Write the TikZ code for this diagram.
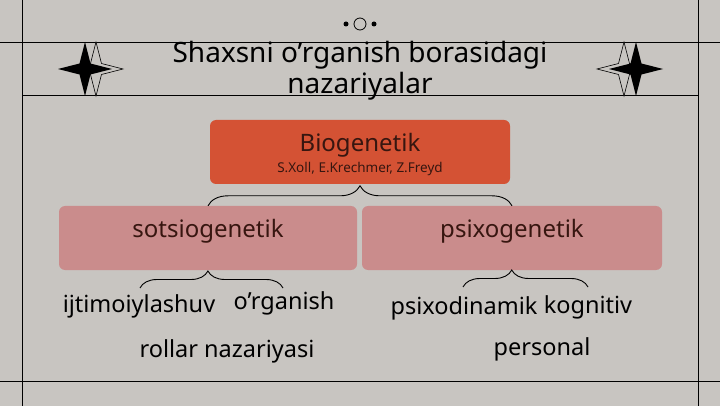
\documentclass[tikz,border=0pt]{standalone}
\usepackage{fontspec}
\setmainfont{Noto Sans}
\usetikzlibrary{decorations.pathreplacing}
\definecolor{slidebg}{RGB}{200,197,193}
\definecolor{bioorange}{RGB}{212,82,52}
\definecolor{branchpink}{RGB}{202,140,140}
\definecolor{boxtext}{RGB}{55,22,16}
\tikzset{
  rule/.style={black, line width=0.8pt},
  sparkle/.pic={\path[pic actions] (0,-27) -- (5.5,-5.5) -- (27,0) -- (5.5,5.5) -- (0,27) -- (-5.5,5.5) -- (-27,0) -- (-5.5,-5.5) -- cycle;},
  bigbox/.style={rounded corners=6pt, minimum width=300pt, minimum height=64pt, inner sep=0pt},
  boxlabel/.style={anchor=base, text=boxtext, font=\fontsize{24}{28}\selectfont, inner sep=0pt},
  leaf/.style={anchor=base, font=\fontsize{23.5}{28}\selectfont, inner sep=0pt},
  curly/.style={draw, line width=0.9pt, decorate, decoration={brace, amplitude=#1}},
}
\begin{document}
\begin{tikzpicture}[x=1pt, y=-1pt]
    \fill [slidebg] (0,0) rectangle (720,406);
    \useasboundingbox (0,0) rectangle (720,406);
    % frame lines
    \draw [rule] (22,0) -- (22,406);
    \draw [rule] (698,0) -- (698,406);
    \draw [rule] (0,42) -- (720,42);
    \draw [rule] (22,95) -- (698,95);
    \draw [rule] (0,381) -- (720,381);
    % ornament
    \fill (346,24) circle (2.5);
    \draw [line width=0.8pt] (360,24) circle (6);
    \fill (374,24) circle (2.5);
    % stars
    \pic [fill=slidebg, draw=black, line width=0.6pt] at (96,69) {sparkle};
    \pic [fill=black] at (85,69) {sparkle};
    \pic [fill=slidebg, draw=black, line width=0.6pt] at (624,69) {sparkle};
    \pic [fill=black] at (636,69) {sparkle};
    % title
    \node [anchor=base, align=center, font=\fontsize{28}{31}\selectfont, inner sep=0pt] (title) at (360,94)
        {Shaxsni o’rganish borasidagi\\nazariyalar};
    % boxes
    \node [bigbox, fill=bioorange] (bio) at (360,152) {};
    \node [bigbox, fill=branchpink, minimum width=298pt] (sotsio) at (208,238) {};
    \node [bigbox, fill=branchpink] (psixo) at (512,238) {};
    \node [boxlabel] (biotitle) at (360,152) {Biogenetik};
    \node [boxlabel, font=\fontsize{13.5}{15}\selectfont] (bioauthors) at (360,173) {S.Xoll, E.Krechmer, Z.Freyd};
    \node [boxlabel] (sotsiotitle) at (208,237) {sotsiogenetik};
    \node [boxlabel] (psixotitle) at (512,237) {psixogenetik};
    % leaves
    \node [leaf] (ijtimoiy) at (139,312) {ijtimoiylashuv};
    \node [leaf] (organish) at (284,309) {o’rganish};
    \node [leaf] (rollar) at (227,357) {rollar nazariyasi};
    \node [leaf] (psixodin) at (464,314) {psixodinamik};
    \node [leaf] (kognitiv) at (588,313) {kognitiv};
    \node [leaf] (personal) at (542,355) {personal};
    % braces
    \coordinate (sotsioL) at (140,288);
    \coordinate (sotsioR) at (283,288);
    \coordinate (psixoL) at (463,287);
    \coordinate (psixoR) at (588,287);
    \draw [curly=20] (sotsio.north) -- (psixo.north);
    \draw [curly=17, decoration={aspect=0.475}] (sotsioL) -- (sotsioR);
    \draw [curly=17, decoration={aspect=0.39}] (psixoL) -- (psixoR);
\end{tikzpicture}
\end{document}
